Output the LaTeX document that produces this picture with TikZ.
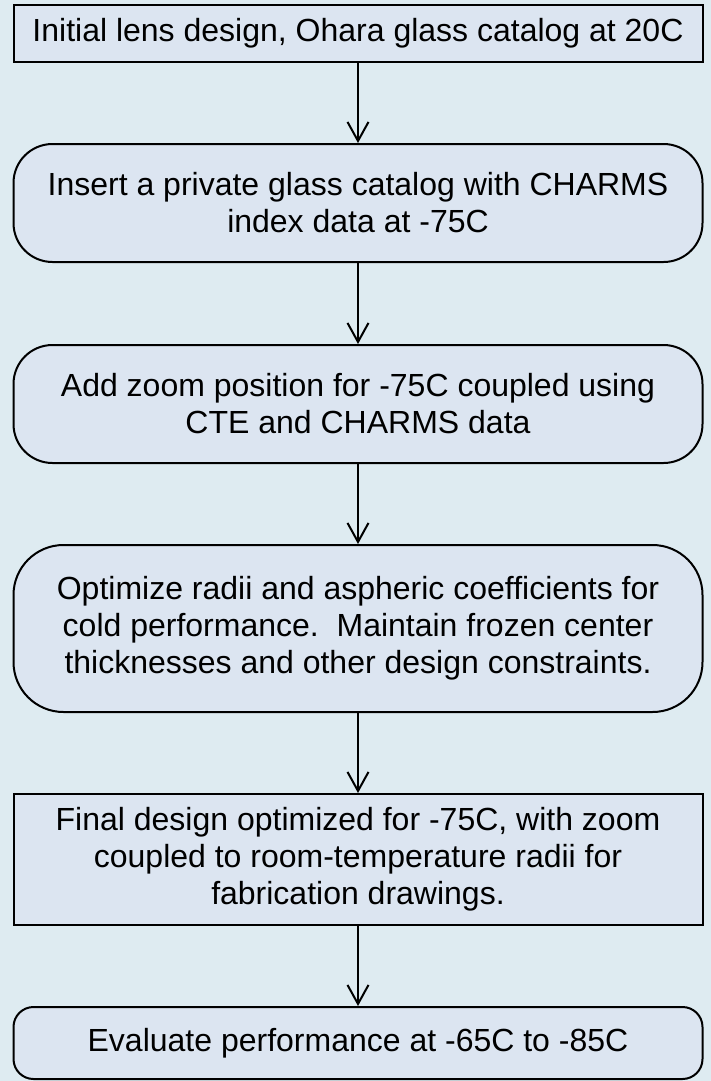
\documentclass[tikz,border=0pt]{standalone}
\usepackage{fontspec}
\setmainfont{Liberation Sans}
\usetikzlibrary{arrows.meta}
\definecolor{bgcol}{RGB}{222,235,241}
\definecolor{boxcol}{RGB}{220,229,241}
\begin{document}
\begin{tikzpicture}[x=1pt,y=-1pt,
  flowbox/.style={draw=black, line width=2pt, fill=boxcol, align=center,
    minimum width=689pt, inner sep=0pt,
    font=\fontsize{32}{37}\selectfont},
  flowarr/.style={draw=black, line width=2pt, -{Straight Barb[length=19pt,width=21pt,line width=2pt]}}
]
\fill[bgcol] (0,0) rectangle (711,1081);
\useasboundingbox (0,0) rectangle (711,1081);
\node[flowbox, minimum height=57pt] (b1) at (358,33.5) {Initial lens design, Ohara glass catalog at 20C};
\node[flowbox, minimum height=118pt, rounded corners=39pt] (b2) at (358,203) {Insert a private glass catalog with CHARMS\\index data at -75C};
\node[flowbox, minimum height=118pt, rounded corners=39pt] (b3) at (358,404) {Add zoom position for -75C coupled using\\CTE and CHARMS data};
\node[flowbox, minimum height=167pt, rounded corners=50pt] (b4) at (358,628.5) {Optimize radii and aspheric coefficients for\\cold performance.\ \ Maintain frozen center\\thicknesses and other design constraints.};
\node[flowbox, minimum height=131pt] (b5) at (358,859.5) {Final design optimized for -75C, with zoom\\coupled to room-temperature radii for\\fabrication drawings.};
\node[flowbox, minimum height=72pt, rounded corners=20pt] (b6) at (358,1043) {Evaluate performance at -65C to -85C};
\draw[flowarr] (b1) -- (b2);
\draw[flowarr] (b2) -- (b3);
\draw[flowarr] (b3) -- (b4);
\draw[flowarr] (b4) -- (b5);
\draw[flowarr] (b5) -- (b6);
\end{tikzpicture}
\end{document}
